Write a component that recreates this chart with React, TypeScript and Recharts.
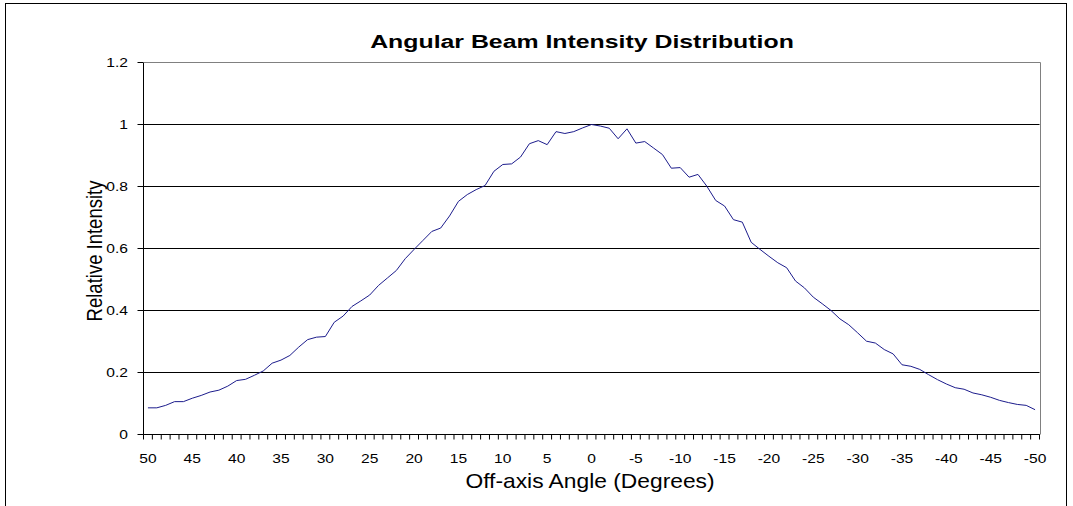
import React from "react";
import { CartesianGrid, Line, LineChart, XAxis, YAxis } from "recharts";

const ANGLES = [
  50, 49, 48, 47, 46, 45, 44, 43, 42, 41, 40, 39, 38, 37, 36, 35, 34, 33, 32, 31, 30,
  29, 28, 27, 26, 25, 24, 23, 22, 21, 20, 19, 18, 17, 16, 15, 14, 13, 12, 11, 10,
  9, 8, 7, 6, 5, 4, 3, 2, 1, 0, -1, -2, -3, -4, -5, -6, -7, -8, -9, -10,
  -11, -12, -13, -14, -15, -16, -17, -18, -19, -20, -21, -22, -23, -24, -25, -26, -27, -28, -29, -30,
  -31, -32, -33, -34, -35, -36, -37, -38, -39, -40, -41, -42, -43, -44, -45, -46, -47, -48, -49, -50,
];

const INTENSITY = [
  0.086, 0.086, 0.094, 0.106, 0.106, 0.117, 0.126, 0.137, 0.143, 0.156, 0.174, 0.178, 0.191, 0.205, 0.23, 0.24, 0.255, 0.282, 0.306, 0.314, 0.316,
  0.362, 0.382, 0.413, 0.431, 0.45, 0.481, 0.505, 0.529, 0.567, 0.597, 0.626, 0.655, 0.666, 0.705, 0.752, 0.774, 0.79, 0.803, 0.849, 0.871,
  0.873, 0.895, 0.938, 0.948, 0.935, 0.977, 0.971, 0.977, 0.989, 1.0, 0.995, 0.988, 0.954, 0.986, 0.94, 0.945, 0.924, 0.903, 0.859, 0.861,
  0.83, 0.839, 0.801, 0.755, 0.737, 0.693, 0.685, 0.62, 0.597, 0.575, 0.554, 0.538, 0.495, 0.473, 0.443, 0.422, 0.4, 0.373, 0.354, 0.328,
  0.301, 0.295, 0.274, 0.26, 0.225, 0.22, 0.21, 0.193, 0.177, 0.163, 0.151, 0.146, 0.134, 0.128, 0.12, 0.11, 0.103, 0.097, 0.094, 0.08,
];

const Y_TICKS = [0, 0.2, 0.4, 0.6, 0.8, 1, 1.2];
const X_LABEL_EVERY = 5;

const data = ANGLES.map((a, i) => ({ angle: a, v: INTENSITY[i] }));

const W = 1073;
const H = 506;
const PLOT_L = 143.5;
const PLOT_R = 1039.5;
const PLOT_T = 62.5;
const PLOT_B = 434.5;
const Y_AXIS_W = 60;
const X_AXIS_H = 40;
const HALF = (PLOT_R - PLOT_L) / ANGLES.length / 2;
const FONT = '"Liberation Sans", Arial, sans-serif';
const STRETCH = 1.3;

function XTick(props: any) {
  const { x, payload } = props;
  const v = payload.value;
  return (
    <g>
      <line x1={x - HALF} x2={x - HALF} y1={PLOT_B} y2={PLOT_B + 5} stroke="#000" />
      {v === ANGLES[ANGLES.length - 1] && (
        <line x1={x + HALF} x2={x + HALF} y1={PLOT_B} y2={PLOT_B + 5} stroke="#000" />
      )}
      {v % X_LABEL_EVERY === 0 && (
        <text
          transform={`translate(${x},${PLOT_B + 28}) scale(${STRETCH},1)`}
          textAnchor="middle"
          fontSize={12}
          fontFamily={FONT}
          fill="#000"
        >
          {v}
        </text>
      )}
    </g>
  );
}

function YTick(props: any) {
  const { x, y, payload } = props;
  return (
    <text
      transform={`translate(${x},${y + 4}) scale(${STRETCH},1)`}
      textAnchor="end"
      fontSize={12}
      fontFamily={FONT}
      fill="#000"
    >
      {payload.value}
    </text>
  );
}

export default function App() {
  return (
    <div style={{ position: "absolute", left: 0, top: 0, width: W, height: H, overflow: "hidden", background: "#fff" }}>
      <div
        style={{
          position: "absolute",
          left: 5,
          top: 3,
          width: 1060,
          height: 600,
          border: "1px solid #000",
        }}
      />
      <div style={{ position: "absolute", left: 0, top: 0 }}>
        <LineChart
          width={W}
          height={H}
          data={data}
          margin={{ top: PLOT_T, right: W - PLOT_R, bottom: H - PLOT_B - X_AXIS_H, left: PLOT_L - Y_AXIS_W }}
        >
          <CartesianGrid vertical={false} stroke="#000" strokeOpacity={1} />
          <XAxis
            dataKey="angle"
            type="number"
            domain={[ANGLES[ANGLES.length - 1] - 0.5, ANGLES[0] + 0.5]}
            reversed
            ticks={ANGLES}
            interval={0}
            tick={<XTick />}
            tickLine={false}
            tickSize={0}
            height={X_AXIS_H}
            axisLine={{ stroke: "#000" }}
          />
          <YAxis
            domain={[0, 1.2]}
            ticks={Y_TICKS}
            interval={0}
            width={Y_AXIS_W}
            tickSize={6}
            tickMargin={9.5}
            tickLine={{ stroke: "#000" }}
            axisLine={{ stroke: "#000" }}
            tick={<YTick />}
          />
          <Line
            type="linear"
            dataKey="v"
            stroke="#1c1c8c"
            strokeWidth={1}
            dot={false}
            isAnimationActive={false}
          />
        </LineChart>
      </div>
      <svg width={W} height={H} style={{ position: "absolute", left: 0, top: 0, pointerEvents: "none" }}>
        <line x1={PLOT_L} x2={1040.5} y1={PLOT_T} y2={PLOT_T} stroke="#808080" />
        <line x1={1040.5} x2={1040.5} y1={PLOT_T} y2={PLOT_B} stroke="#808080" />
        <text
          transform={`translate(582,48) scale(1.38,1)`}
          textAnchor="middle"
          fontSize={18}
          fontWeight="bold"
          fontFamily={FONT}
          fill="#000"
        >
          Angular Beam Intensity Distribution
        </text>
        <text
          transform={`translate(590,488) scale(1.14,1)`}
          textAnchor="middle"
          fontSize={20}
          fontFamily={FONT}
          fill="#000"
        >
          Off-axis Angle (Degrees)
        </text>
        <text
          transform={`translate(102,251) scale(1.15,1) rotate(-90)`}
          textAnchor="middle"
          fontSize={18.5}
          fontFamily={FONT}
          fill="#000"
        >
          Relative Intensity
        </text>
      </svg>
    </div>
  );
}
